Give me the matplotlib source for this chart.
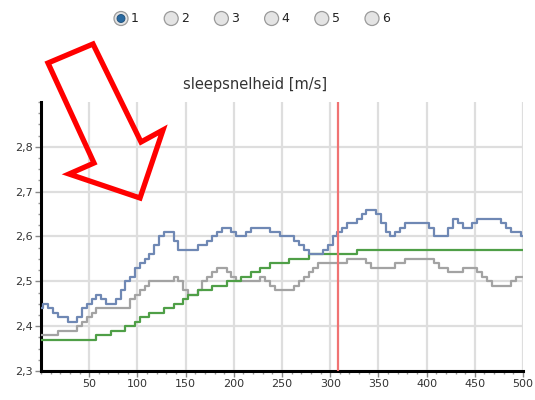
import numpy as np
import matplotlib
matplotlib.use("Agg")
import matplotlib.pyplot as plt
from matplotlib.patches import Polygon, Circle
from matplotlib.ticker import MultipleLocator, FixedLocator

# --- data (one value every 5 m) ---
afstand = list(range(0, 505, 5))

blauw = [2.44, 2.45, 2.44, 2.43, 2.42, 2.42, 2.41, 2.41, 2.42, 2.44,
         2.45, 2.46, 2.47, 2.46, 2.45, 2.45, 2.46, 2.48, 2.50, 2.51,
         2.53, 2.54, 2.55, 2.56, 2.58, 2.60, 2.61, 2.61, 2.59, 2.57,
         2.57, 2.57, 2.57, 2.58, 2.58, 2.59, 2.60, 2.61, 2.62, 2.62,
         2.61, 2.60, 2.60, 2.61, 2.62, 2.62, 2.62, 2.62, 2.61, 2.61,
         2.60, 2.60, 2.60, 2.59, 2.58, 2.57, 2.56, 2.56, 2.56, 2.57,
         2.58, 2.60, 2.61, 2.62, 2.63, 2.63, 2.64, 2.65, 2.66, 2.66,
         2.65, 2.63, 2.61, 2.60, 2.61, 2.62, 2.63, 2.63, 2.63, 2.63,
         2.63, 2.62, 2.60, 2.60, 2.60, 2.62, 2.64, 2.63, 2.62, 2.62,
         2.63, 2.64, 2.64, 2.64, 2.64, 2.64, 2.63, 2.62, 2.61, 2.61,
         2.60]

grijs = [2.38, 2.38, 2.38, 2.38, 2.39, 2.39, 2.39, 2.39, 2.40, 2.41,
         2.42, 2.43, 2.44, 2.44, 2.44, 2.44, 2.44, 2.44, 2.44, 2.46,
         2.47, 2.48, 2.49, 2.50, 2.50, 2.50, 2.50, 2.50, 2.51, 2.50,
         2.48, 2.47, 2.47, 2.48, 2.50, 2.51, 2.52, 2.53, 2.53, 2.52,
         2.51, 2.50, 2.50, 2.50, 2.50, 2.50, 2.51, 2.50, 2.49, 2.48,
         2.48, 2.48, 2.48, 2.49, 2.50, 2.51, 2.52, 2.53, 2.54, 2.54,
         2.54, 2.54, 2.54, 2.54, 2.55, 2.55, 2.55, 2.55, 2.54, 2.53,
         2.53, 2.53, 2.53, 2.53, 2.54, 2.54, 2.55, 2.55, 2.55, 2.55,
         2.55, 2.55, 2.54, 2.53, 2.53, 2.52, 2.52, 2.52, 2.53, 2.53,
         2.53, 2.52, 2.51, 2.50, 2.49, 2.49, 2.49, 2.49, 2.50, 2.51,
         2.51]

groen = [2.37, 2.37, 2.37, 2.37, 2.37, 2.37, 2.37, 2.37, 2.37, 2.37,
         2.37, 2.37, 2.38, 2.38, 2.38, 2.39, 2.39, 2.39, 2.40, 2.40,
         2.41, 2.42, 2.42, 2.43, 2.43, 2.43, 2.44, 2.44, 2.45, 2.45,
         2.46, 2.47, 2.47, 2.48, 2.48, 2.48, 2.49, 2.49, 2.49, 2.50,
         2.50, 2.50, 2.51, 2.51, 2.52, 2.52, 2.53, 2.53, 2.54, 2.54,
         2.54, 2.54, 2.55, 2.55, 2.55, 2.55, 2.56, 2.56, 2.56, 2.56,
         2.56, 2.56, 2.56, 2.56, 2.56, 2.56, 2.57, 2.57, 2.57, 2.57,
         2.57, 2.57, 2.57, 2.57, 2.57, 2.57, 2.57, 2.57, 2.57, 2.57,
         2.57, 2.57, 2.57, 2.57, 2.57, 2.57, 2.57, 2.57, 2.57, 2.57,
         2.57, 2.57, 2.57, 2.57, 2.57, 2.57, 2.57, 2.57, 2.57, 2.57,
         2.57]

cursor_x = 308
titel = "sleepsnelheid [m/s]"
keuzes = ["1", "2", "3", "4", "5", "6"]
y_ticks = [2.3, 2.4, 2.5, 2.6, 2.7, 2.8]
x_ticks = list(range(50, 550, 50))

# --- figure ---
W, H = 535, 400
fig = plt.figure(figsize=(W / 100, H / 100), dpi=100)

def fx(px):
    return px / W

def fy(py):
    return 1 - py / H

ax = fig.add_axes([fx(41), fy(371), fx(523) - fx(41), fy(102) - fy(371)])

ax.plot(afstand, grijs, color="#a3a3a3", lw=1.6, drawstyle="steps-mid", zorder=3)
ax.plot(afstand, groen, color="#4f9f47", lw=1.6, drawstyle="steps-mid", zorder=4)
ax.plot(afstand, blauw, color="#6f88b4", lw=1.6, drawstyle="steps-mid", zorder=5)
ax.axvline(cursor_x, color="#f07373", lw=1.6, zorder=6)

ax.set_xlim(0, 500)
ax.set_ylim(2.3, 2.9)

ax.xaxis.set_major_locator(FixedLocator(x_ticks))
ax.xaxis.set_minor_locator(MultipleLocator(10))
ax.yaxis.set_major_locator(FixedLocator(y_ticks))
ax.yaxis.set_minor_locator(MultipleLocator(0.025))
ax.set_yticklabels([("%.1f" % v).replace(".", ",") for v in y_ticks])

ax.grid(True, which="major", color="#dedede", lw=1.6, zorder=0)
ax.set_axisbelow(True)

for s in ["top", "right"]:
    ax.spines[s].set_visible(False)
for s in ["left", "bottom"]:
    ax.spines[s].set_linewidth(2.2)
    ax.spines[s].set_color("black")

ax.tick_params(which="major", length=4, width=1, color="#888888",
               labelsize=8, labelcolor="#333333", pad=2)
ax.tick_params(which="minor", length=2.5, width=1, color="#999999")

# title
fig.text(fx(255), fy(85), titel, ha="center", va="center",
         fontsize=10.5, color="#333333")

# overlay for radio buttons and the red arrow (pixel coordinates)
ov = fig.add_axes([0, 0, 1, 1], zorder=10)
ov.set_xlim(0, W)
ov.set_ylim(H, 0)
ov.axis("off")
ov.patch.set_alpha(0)

for i, k in enumerate(keuzes):
    cx = 121 + i * 50.2
    ov.add_patch(Circle((cx, 18.5), 7, facecolor="#e4e4e4",
                        edgecolor="#9a9a9a", lw=0.9))
    if i == 0:
        ov.add_patch(Circle((cx, 18.5), 4, facecolor="#2a6aa0",
                            edgecolor="#1d4f7a", lw=0.6))
    ov.text(cx + 10, 19, k, ha="left", va="center", fontsize=9,
            color="#222222")

pijl = [(48, 63), (93, 44), (141, 142), (163, 130),
        (140, 198), (69, 174), (94, 163)]
ov.add_patch(Polygon(pijl, closed=True, fill=False, edgecolor="#ff0000",
                     lw=3.8, joinstyle="miter"))

fig.savefig("out.png", dpi=100)
